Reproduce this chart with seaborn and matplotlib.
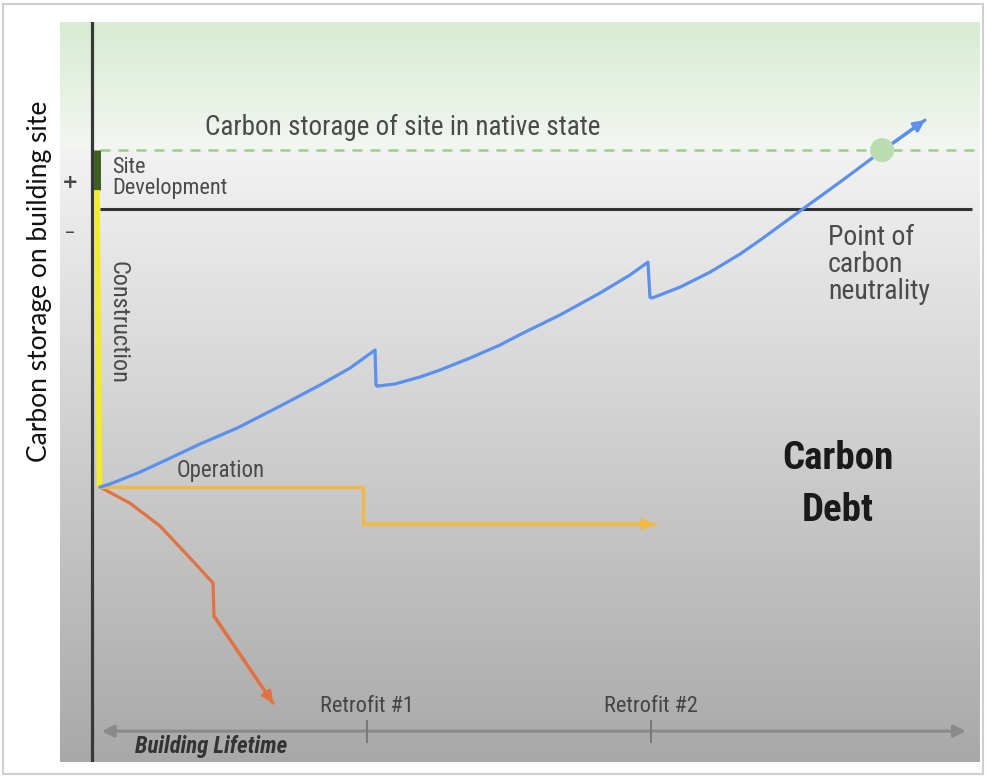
import numpy as np
import matplotlib.pyplot as plt
import seaborn as sns
from matplotlib import font_manager as fm
from matplotlib.patches import Rectangle

sns.set_style("white")
plt.rcParams['font.family'] = ['DejaVu Sans']

# look for a condensed sans face, the diagram uses a narrow font
NARROW, STRETCH = 'Roboto', 'normal'
cond = [f.name for f in fm.fontManager.ttflist
        if 'condensed' in str(f.stretch) and 'Mono' not in f.name and 'Serif' not in f.name]
for n in ['Liberation Sans Narrow', 'Roboto Condensed', 'Roboto', 'Noto Sans', 'DejaVu Sans', 'Open Sans']:
    if n in cond:
        NARROW, STRETCH = n, 'condensed'
        break
else:
    if cond:
        NARROW, STRETCH = cond[0], 'condensed'
NF = dict(family=[NARROW, 'DejaVu Sans'], fontstretch=STRETCH)

# x = building lifetime (0-100), y = carbon storage (0 = carbon neutral)
native_state = 2.12
site_dev_bottom = 0.68
start_level = -10.0

# high performance building (blue)
blue_x = [0, 1.15, 4.59, 8.03, 11.47, 15.71, 20.64, 25.23, 28.67, 31.54,
          31.65, 31.77, 33.83, 36.70, 38.99, 42.43, 45.87, 48.51, 52.75, 57.34, 60.78, 62.84,
          63.07, 63.30, 66.51, 69.95, 73.39, 75.69, 80.28, 84.86, 89.79, 94.61]
blue_y = [-10.0, -9.89, -9.46, -8.96, -8.45, -7.88, -7.09, -6.33, -5.72, -5.07,
          -6.33, -6.37, -6.29, -6.04, -5.79, -5.36, -4.89, -4.46, -3.81, -3.02, -2.37, -1.91,
          -3.17, -3.20, -2.81, -2.27, -1.62, -1.12, -0.07, 0.97, 2.12, 3.20]

# typical building (orange)
orange_x = [0, 30.16, 30.16, 63.6]
orange_y = [-10.0, -10.0, -11.33, -11.33]

# poor building (red)
red_x = [0, 3.44, 6.88, 10.32, 12.96, 13.07, 19.84]
red_y = [-10.0, -10.58, -11.40, -12.55, -13.45, -14.64, -17.77]

neutral_point = (89.7, 2.12)
retrofit_x = [30.6, 63.2]
retrofit_labels = ["Retrofit #1", "Retrofit #2"]

xmin, xmax = -4.59, 100.92
ymin, ymax = -19.89, 6.73

fig = plt.figure(figsize=(9.87, 7.78), dpi=100)
fig.patches.append(Rectangle((3 / 987, 4 / 778), 980 / 987, 770 / 778, transform=fig.transFigure,
                             fill=False, ec='#cfcfcf', lw=1.5))
ax = fig.add_axes([60 / 987, 1 - 762 / 778, 920 / 987, 740 / 778])

# background gradient: green fade on top, grey fade below native-state line
rows = np.arange(22, 762)
cols = np.zeros((len(rows), 1, 3))
for i, py in enumerate(rows):
    if py < 150:
        t = (py - 22) / 128
        c = np.array([0.84, 0.925, 0.82]) * (1 - t) + np.array([0.955, 0.965, 0.95]) * t
    else:
        t = (py - 150) / 612
        c = np.array([0.95, 0.95, 0.95]) * (1 - t) + np.array([0.66, 0.66, 0.66]) * t
    cols[i, 0] = c
ax.imshow(cols, extent=(xmin, xmax, ymin, ymax), aspect='auto', origin='upper', zorder=0)

# axes lines
ax.axvline(-0.92, color='#383838', lw=2.3, zorder=2)
ax.hlines(0, 0, 100, color='#333333', lw=2.2, zorder=2)
ax.hlines(native_state, 0, 100.5, color='#9ccc8a', lw=1.8, ls=(0, (4, 3.2)), zorder=2)

# site development / construction bars
ax.plot([-0.35, -0.35], [native_state, site_dev_bottom], color='#3e5f1f', lw=5, solid_capstyle='butt', zorder=3)
ax.plot([-0.35, -0.05], [site_dev_bottom, start_level], color='#f2ea2c', lw=4, solid_capstyle='butt', zorder=3)

# curves
for xs, ys, col in [(red_x, red_y, '#e2723f'), (orange_x, orange_y, '#f2b844'), (blue_x, blue_y, '#5b90ee')]:
    sns.lineplot(x=xs, y=ys, sort=False, estimator=None, color=col, lw=2.3, ax=ax, zorder=4)
    ax.annotate("", xy=(xs[-1], ys[-1]), xytext=(xs[-2], ys[-2]),
                arrowprops=dict(arrowstyle='-|>', color=col, lw=2.3, mutation_scale=16,
                                shrinkA=0, shrinkB=0), zorder=4)

sns.scatterplot(x=[neutral_point[0]], y=[neutral_point[1]], s=300, color='#b9ddb0', edgecolor='none',
                ax=ax, zorder=5)

# lifetime axis
ax.annotate("", xy=(99.3, -18.78), xytext=(0.2, -18.78),
            arrowprops=dict(arrowstyle='<|-|>', color='#8a8a8a', lw=2.2, mutation_scale=18,
                            shrinkA=0, shrinkB=0), zorder=3)
ax.vlines(retrofit_x, -19.2, -18.38, color='#7a7a7a', lw=1.5, zorder=3)
for rx, lab in zip(retrofit_x, retrofit_labels):
    ax.text(rx, -17.9, lab, ha='center', va='center', fontsize=16, color='#444444', **NF)
ax.text(4.0, -19.32, "Building Lifetime", ha='left', va='center', fontsize=16.5,
        fontweight='bold', fontstyle='italic', color='#333333', **NF)

# labels
gray = '#4a4a4a'
ax.text(12.04, 2.95, "Carbon storage of site in native state", ha='left', va='center', fontsize=19.5,
        color=gray, **NF)
ax.text(1.38, 1.12, "Site\nDevelopment", ha='left', va='center', fontsize=16, color=gray,
        linespacing=1.0, **NF)
ax.text(2.06, -4.06, "Construction", ha='center', va='center', rotation=270, fontsize=17.5, color=gray, **NF)
ax.text(8.83, -9.39, "Operation", ha='left', va='center', fontsize=16.5, color=gray, **NF)
ax.text(83.5, -1.98, "Point of\ncarbon\nneutrality", ha='left', va='center', fontsize=20, color=gray,
        linespacing=1.0, **NF)
ax.text(84.6, -8.96, "Carbon", ha='center', va='center', fontsize=28, fontweight='bold', color='#1a1a1a', **NF)
ax.text(84.6, -10.83, "Debt", ha='center', va='center', fontsize=28, fontweight='bold', color='#1a1a1a', **NF)
ax.text(-3.44, 0.94, "+", ha='center', va='center', fontsize=14, fontweight='bold', color='#444444')
ax.text(-3.44, -0.83, "\u2013", ha='center', va='center', fontsize=14, color='#444444')

fig.text(40 / 987, 1 - 281 / 778, "Carbon storage on building site", rotation=90, ha='center', va='center',
         fontsize=19, color='#111111', family=['Lato', 'DejaVu Sans'])

ax.set_xlim(xmin, xmax)
ax.set_ylim(ymin, ymax)
ax.set_xticks([])
ax.set_yticks([])
sns.despine(ax=ax, left=True, bottom=True)

fig.savefig("out.png", dpi=100)
